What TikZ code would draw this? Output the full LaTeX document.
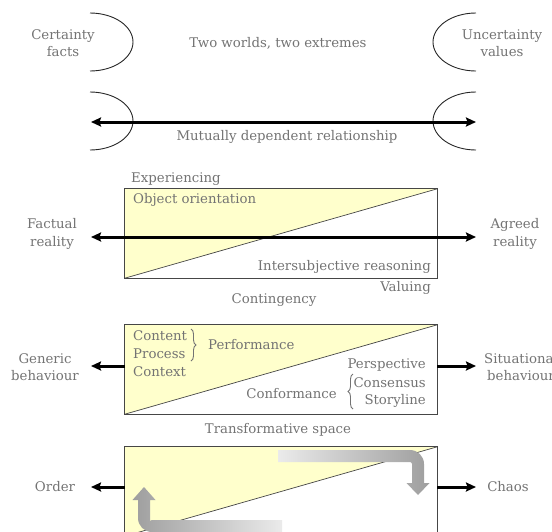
\documentclass[tikz,border=0pt]{standalone}
\usepackage{fontspec}
\setmainfont{DejaVu Serif}
\usetikzlibrary{arrows.meta,decorations.pathreplacing,calc}
\definecolor{txt}{RGB}{115,115,115}
\definecolor{pale}{RGB}{255,255,204}
\definecolor{edge}{RGB}{70,70,70}
\tikzset{
  lbl/.style={text=txt,font=\fontsize{13.3}{17.5}\selectfont,inner sep=0pt,align=center},
  lbll/.style={lbl,anchor=west,align=left},
  lblr/.style={lbl,anchor=east,align=right},
  bigarrow/.style={line width=3pt,-{Stealth[length=10pt,width=9pt,inset=1.5pt]}},
  dblarrow/.style={line width=3pt,{Stealth[length=10pt,width=9pt,inset=1.5pt]}-{Stealth[length=10pt,width=9pt,inset=1.5pt]}},
  boxn/.style={minimum width=312pt,minimum height=89pt,inner sep=0pt},
  boxline/.style={draw=edge,line width=0.8pt},
  arcline/.style={draw=black!85,line width=0.9pt},
  bracel/.style={draw=txt,line width=0.9pt,decorate,decoration={brace,amplitude=5pt}}
}
\begin{document}
\begin{tikzpicture}[x=1pt,y=-1pt]
\useasboundingbox (0,0) rectangle (552,531);
% ---------- top part ----------
\coordinate (a1) at (90,13);
\coordinate (a2) at (476,13);
\coordinate (a3) at (90,92);
\coordinate (a4) at (476,92);
\draw[arcline] (a1) arc[start angle=90,end angle=-90,x radius=43pt,y radius=29pt];
\draw[arcline] (a2) arc[start angle=90,end angle=270,x radius=43pt,y radius=29pt];
\draw[arcline] (a3) arc[start angle=90,end angle=-90,x radius=43pt,y radius=29pt];
\draw[arcline] (a4) arc[start angle=90,end angle=270,x radius=43pt,y radius=29pt];
\node[lbl] (cert) at (63,43) {Certainty\\facts};
\node[lbl] (unc) at (502,43) {Uncertainty\\values};
\node[lbl] (two) at (278,43) {Two worlds, two extremes};
\coordinate (mL) at (91,122);
\coordinate (mR) at (476,122);
\draw[dblarrow] (mL) -- (mR);
\node[lbl] (mut) at (287,137) {Mutually dependent relationship};
% ---------- box 1 ----------
\node[boxn] (b1) at (281,233.5) {};
\fill[pale] (b1.south west) -- (b1.north west) -- (b1.north east) -- cycle;
\draw[edge,line width=0.7pt] (b1.south west) -- (b1.north east);
\draw[boxline] (b1.south west) rectangle (b1.north east);
\node[lbll] (exp) at (131,179) {Experiencing};
\node[lbll] (obj) at (133,200) {Object orientation};
\node[lblr] (inter) at (431,267) {Intersubjective reasoning};
\node[lblr] (val) at (431,288) {Valuing};
\node[lbl] (cont) at (274,300) {Contingency};
\node[lbl] (fact) at (52,234) {Factual\\reality};
\node[lbl] (agr) at (515,234) {Agreed\\reality};
\coordinate (fL) at (91,237);
\coordinate (fR) at (476,237);
\draw[dblarrow] (fL) -- (fR);
% ---------- box 2 ----------
\node[boxn] (b2) at (281,369.5) {};
\fill[pale] (b2.south west) -- (b2.north west) -- (b2.north east) -- cycle;
\draw[edge,line width=0.7pt] (b2.south west) -- (b2.north east);
\draw[boxline] (b2.south west) rectangle (b2.north east);
\node[lbll] (cnt) at (133,336) {Content};
\node[lbll] (prc) at (133,354) {Process};
\node[lbll] (ctx) at (133,372) {Context};
\coordinate (br1a) at (191,329);
\coordinate (br1b) at (191,361);
\draw[bracel] (br1a) -- (br1b);
\node[lbll] (perf) at (208,345) {Performance};
\node[lblr] (persp) at (426,365) {Perspective};
\node[lblr] (cons) at (426,383) {Consensus};
\node[lblr] (story) at (426,401) {Storyline};
\coordinate (br2a) at (353,409);
\coordinate (br2b) at (353,374);
\draw[bracel] (br2a) -- (br2b);
\node[lblr] (conf) at (337,394) {Conformance};
\node[lbl] (gen) at (45,367) {Generic\\behaviour};
\node[lbl] (sit) at (521,367) {Situational\\behaviour};
\coordinate (b2l) at (125,366);
\coordinate (b2r) at (437,366);
\coordinate (genT) at (91,366);
\coordinate (sitT) at (476,366);
\draw[bigarrow] (b2l) -- (genT);
\draw[bigarrow] (b2r) -- (sitT);
\node[lbl] (trans) at (278,430) {Transformative space};
% ---------- box 3 ----------
\node[boxn] (b3) at (281,491.5) {};
\fill[pale] (b3.south west) -- (b3.north west) -- (b3.north east) -- cycle;
\draw[edge,line width=0.7pt] (b3.south west) -- (b3.north east);
\draw[boxline] (b3.south west) rectangle (b3.north east);
\node[lbl] (ord) at (55,487) {Order};
\node[lbl] (chaos) at (508,487) {Chaos};
\coordinate (b3l) at (125,487);
\coordinate (b3r) at (437,487);
\coordinate (ordT) at (91,487);
\coordinate (chT) at (476,487);
\draw[bigarrow] (b3l) -- (ordT);
\draw[bigarrow] (b3r) -- (chT);
% gradient turning arrows
\shade[left color=black!8,right color=black!38]
  (278,450) -- (410,450) arc[start angle=90,end angle=0,radius=14pt]
  -- (424,483) -- (429.5,483) -- (418,495) -- (406.5,483) -- (412,483)
  -- (412,464) arc[start angle=0,end angle=90,radius=2pt] -- (278,462) -- cycle;
\shade[left color=black!38,right color=black!8]
  (282,520) -- (152,520) arc[start angle=90,end angle=180,radius=2pt]
  -- (150,500) -- (155.5,500) -- (144,487) -- (132.5,500) -- (138,500)
  -- (138,518) arc[start angle=180,end angle=270,radius=14pt] -- (282,532) -- cycle;
\end{tikzpicture}
\end{document}
